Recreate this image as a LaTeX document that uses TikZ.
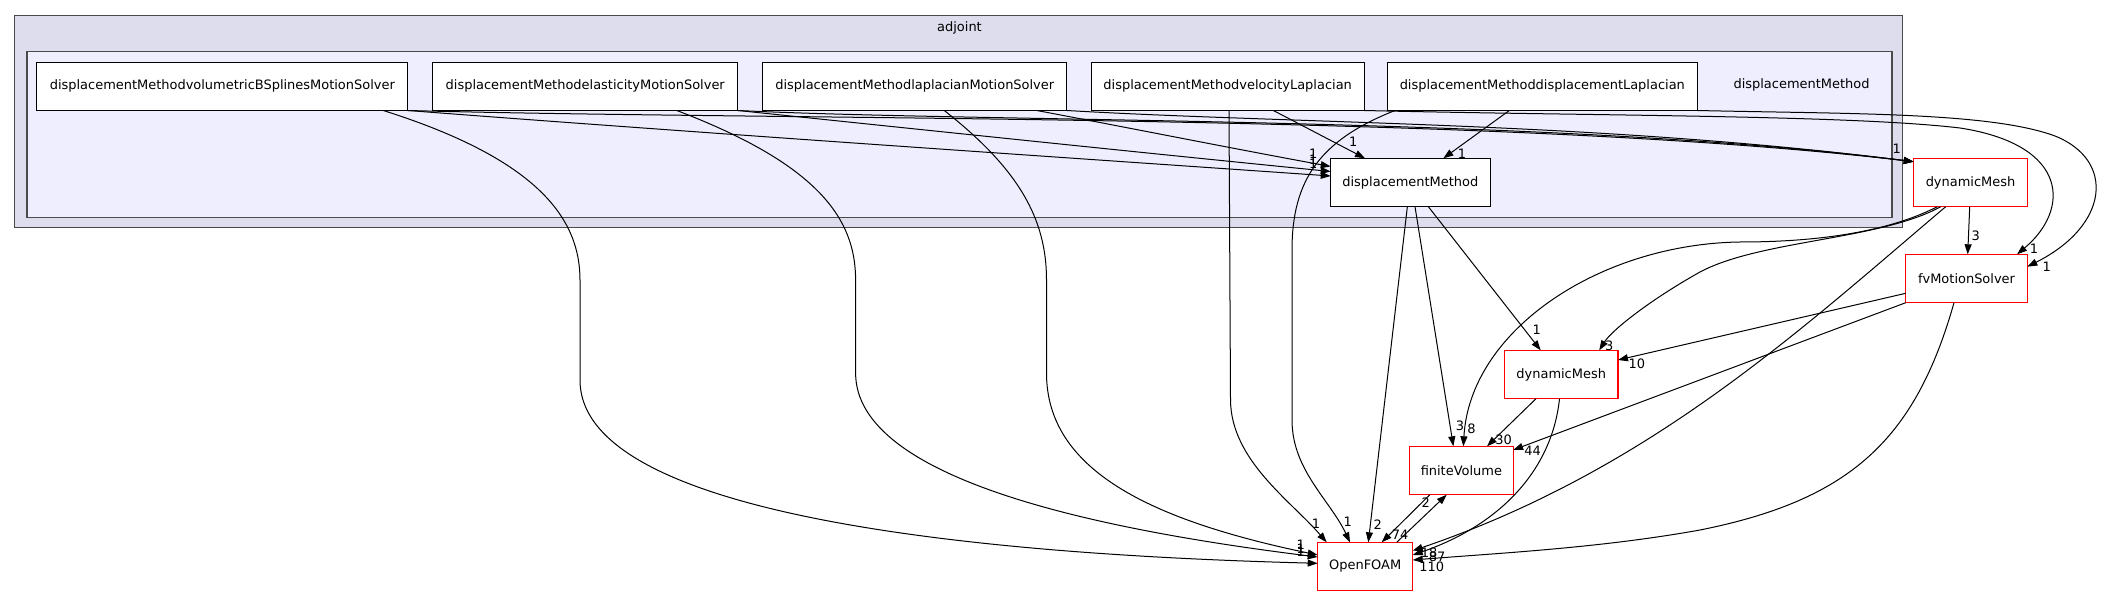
\documentclass[tikz,border=0pt]{standalone}
\usepackage{fontspec}
\setmainfont{DejaVu Sans}
\usetikzlibrary{arrows.meta}
\definecolor{outerfill}{HTML}{DDDDEE}
\definecolor{innerfill}{HTML}{EEEEFF}
\definecolor{clusterline}{HTML}{4A4A4A}
\begin{document}
\begin{tikzpicture}[x=1pt,y=-1pt,
  font=\fontsize{12.96}{15}\selectfont,
  dirbox/.style={draw=black,line width=1pt,fill=white,inner sep=0pt,outer sep=0pt,minimum height=48.4pt},
  extbox/.style={dirbox,draw=red,line width=1.2pt},
  dep/.style={draw=black,line width=1pt,-{Triangle[length=10pt,width=7pt]}},
  elabel/.style={inner sep=0pt,outer sep=0pt},
  cluster/.style={draw=clusterline,line width=1.4pt}
]
\useasboundingbox (0,0) rectangle (2104,596);
\fill[white] (0,0) rectangle (2104,596);

% clusters
\draw[cluster,fill=outerfill] (14.7,15.7) rectangle (1902.3,227.7);
\node[elabel] (adjlbl) at (959.5,27.7) {adjoint};
\draw[cluster,fill=innerfill] (26.8,51.7) rectangle (1892,217.3);
\node[elabel] (dmlbl) at (1801.5,85) {displacementMethod};

% nodes
\node[dirbox,minimum width=371pt] (VB) at (222.3,86.3) {displacementMethodvolumetricBSplinesMotionSolver};
\node[dirbox,minimum width=305.3pt] (EL) at (585.25,86.3) {displacementMethodelasticityMotionSolver};
\node[dirbox,minimum width=304.1pt] (LM) at (914.75,86.3) {displacementMethodlaplacianMotionSolver};
\node[dirbox,minimum width=273.3pt] (VL) at (1227.65,86.3) {displacementMethodvelocityLaplacian};
\node[dirbox,minimum width=310pt] (DL) at (1542.3,86.3) {displacementMethoddisplacementLaplacian};
\node[dirbox,minimum width=159.3pt] (DM) at (1410.35,182.5) {displacementMethod};
\node[extbox,minimum width=113.6pt] (DYN) at (1970.5,182.5) {dynamicMesh};
\node[extbox,minimum width=121.6pt] (FV) at (1966.5,278.5) {fvMotionSolver};
\node[extbox,minimum width=113.6pt] (DYN2) at (1561.2,374.5) {dynamicMesh};
\node[extbox,minimum width=103.5pt] (FIN) at (1461.35,470.5) {finiteVolume};
\node[extbox,minimum width=95pt] (OF) at (1365.2,566.5) {OpenFOAM};

% edges from the top row
\draw[dep] (VB.south east) .. controls (700,133) and (1100,160) .. ([yshift=6.5pt]DM.west);
\draw[dep] (VB.south east) .. controls (800,121) and (1500,113) .. ([yshift=-3.4pt]DYN.north west);
\draw[dep] ([xshift=161pt]VB.south) .. controls (540,160) and (580,220) .. (580,280) -- (580,380) .. controls (580,520) and (1000,555) .. ([yshift=3.2pt]OF.west);

\draw[dep] (EL.south east) .. controls (935,131) and (1135,152) .. ([yshift=11pt]DM.west);
\draw[dep] (EL.south east) .. controls (1000,123) and (1550,116) .. ([yshift=-3.4pt]DYN.north west);
\draw[dep] ([xshift=91.5pt]EL.south) .. controls (820,165) and (855.6,220) .. (855.6,280) -- (855.6,373) .. controls (855.6,480) and (1100,530) .. ([yshift=9.5pt]OF.west);

\draw[dep] ([xshift=122pt]LM.south) .. controls (1130,128) and (1230,148) .. ([yshift=16pt]DM.west);
\draw[dep] (LM.south east) .. controls (1300,124) and (1600,122) .. ([yshift=-3.4pt]DYN.north west);
\draw[dep] ([xshift=29.5pt]LM.south) .. controls (1020,170) and (1046.5,220) .. (1046.5,280) -- (1046.5,373) .. controls (1046.5,470) and (1150,520) .. ([yshift=11.5pt]OF.west);

\draw[dep] ([xshift=45.7pt]VL.south) -- ([xshift=-45.35pt]DM.north);
\draw[dep] (VL.south east) .. controls (1600,116) and (1850,115) .. (1960,128) .. controls (2070,145) and (2070,210) .. ([xshift=50.5pt]FV.north);
\draw[dep] ([xshift=1.35pt]VL.south) -- (1230.5,400) .. controls (1231,460) and (1290,500) .. ([xshift=-38.5pt]OF.north);

\draw[dep] ([xshift=-33pt]DL.south) -- ([xshift=33pt]DM.north);
\draw[dep] (DL.south east) .. controls (1850,114) and (1990,112) .. (2055,136) .. controls (2115,160) and (2110,225) .. ([yshift=11.8pt]FV.east);
\draw[dep] ([xshift=-147.3pt]DL.south) .. controls (1320,140) and (1292,180) .. (1292,250) -- (1292,420) .. controls (1292,470) and (1330,500) .. ([xshift=-15.2pt]OF.north);

% edges from displacementMethod
\draw[dep] ([xshift=-3pt]DM.south) -- ([xshift=3.1pt]OF.north);
\draw[dep] ([xshift=4.65pt]DM.south) -- ([xshift=-8pt]FIN.north);
\draw[dep] ([xshift=18pt]DM.south) -- ([xshift=-20.5pt]DYN2.north);

% edges from dynamicMesh (top)
\draw[dep] ([xshift=-0.8pt]DYN.south) -- ([xshift=1.2pt]FV.north);
\draw[dep] ([xshift=-33.2pt]DYN.south) .. controls (1880,236) and (1800,242) .. (1740,242) .. controls (1600,244) and (1470,330) .. ([xshift=2pt]FIN.north);
\draw[dep] ([xshift=-29.8pt]DYN.south) .. controls (1880,240) and (1760,240) .. (1700,272) .. controls (1650,300) and (1612,330) .. ([xshift=38pt]DYN2.north);
\draw[dep] ([xshift=-24.8pt]DYN.south) .. controls (1800,330) and (1650,470) .. ([yshift=15.8pt]OF.east);

% edges from fvMotionSolver
\draw[dep] ([yshift=-14.8pt]FV.west) -- ([yshift=14.5pt]DYN2.east);
\draw[dep] (FV.south west) -- ([yshift=20.5pt]FIN.east);
\draw[dep] ([xshift=-12.5pt]FV.south) .. controls (1915,440) and (1850,500) .. (1700,530) .. controls (1600,548) and (1500,553) .. ([yshift=6.5pt]OF.east);

% edges from dynamicMesh (lower)
\draw[dep] ([xshift=-25.2pt]DYN2.south) -- ([xshift=25.65pt]FIN.north);
\draw[dep] ([xshift=-1.7pt]DYN2.south) .. controls (1552,470) and (1500,525) .. ([yshift=11.5pt]OF.east);

% finiteVolume <-> OpenFOAM
\draw[dep] ([xshift=-31.5pt]FIN.south) -- ([xshift=16.5pt]OF.north);
\draw[dep] ([xshift=31.5pt]OF.north) -- ([xshift=-14.65pt]FIN.south);

% edge labels
\node[elabel] (l1) at (1313.3,153.3) {1};
\node[elabel] (l2) at (1313.3,159.5) {1};
\node[elabel] (l3) at (1313.3,164) {1};
\node[elabel] (l4) at (1353.3,141.7) {1};
\node[elabel] (l5) at (1462,153.3) {1};
\node[elabel] (l6) at (1896.7,148.3) {1};
\node[elabel] (l7) at (1975.7,235.7) {3};
\node[elabel] (l8) at (2034,249) {1};
\node[elabel] (l9) at (2046.7,266.7) {1};
\node[elabel] (l10) at (1536.7,329.3) {1};
\node[elabel] (l11) at (1609.3,346) {3};
\node[elabel] (l12) at (1636.8,364) {10};
\node[elabel] (l13) at (1460,425.7) {3};
\node[elabel] (l14) at (1471.5,428.3) {8};
\node[elabel] (l15) at (1503.7,440) {30};
\node[elabel] (l16) at (1532.6,450.7) {44};
\node[elabel] (l17) at (1300.7,545) {1};
\node[elabel] (l18) at (1300.7,549) {1};
\node[elabel] (l19) at (1300.7,551.7) {1};
\node[elabel] (l20) at (1316,523.3) {1};
\node[elabel] (l21) at (1347.7,521.7) {1};
\node[elabel] (l22) at (1377.7,524.3) {2};
\node[elabel] (l23) at (1400,534.3) {74};
\node[elabel] (l24) at (1425.7,502.3) {2};
\node[elabel] (l25) at (1429,552.5) {18};
\node[elabel] (l26) at (1437,556.5) {87};
\node[elabel] (l27) at (1431.7,567) {110};
\end{tikzpicture}
\end{document}
